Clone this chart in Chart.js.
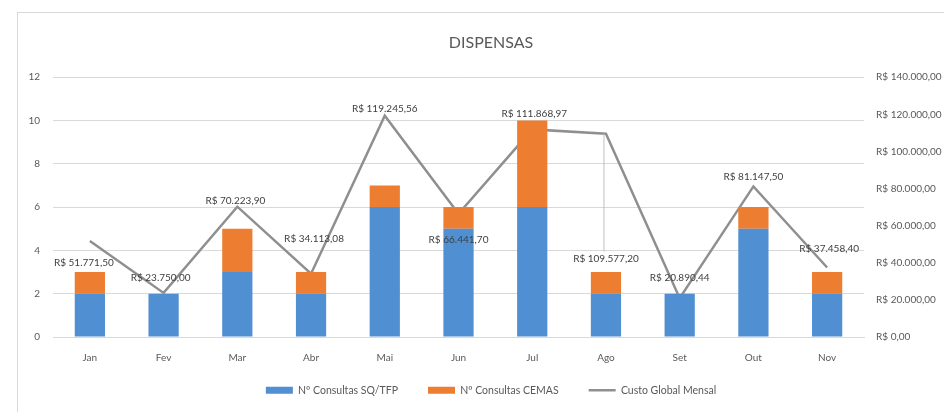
<!DOCTYPE html>
<html>
<head>
<meta charset="utf-8">
<script src="https://cdn.jsdelivr.net/npm/chart.js@4.4.1/dist/chart.umd.min.js"></script>
<style>
    html, body { margin: 0; padding: 0; background: #fff; overflow: hidden; }
    #wrap { position: relative; width: 982px; height: 412px; }
    #frame { position: absolute; left: 17px; top: 12px; right: 0; bottom: 0;
             border-left: 1px solid #d9d9d9; border-top: 1px solid #d9d9d9; pointer-events: none; }
</style>
</head>
<body>
<div id="wrap">
    <canvas id="chart"></canvas>
    <div id="frame"></div>
</div>
<script>
// Data
const months = ['Jan', 'Fev', 'Mar', 'Abr', 'Mai', 'Jun', 'Jul', 'Ago', 'Set', 'Out', 'Nov'];
const consultasSQ = [2, 2, 3, 2, 6, 5, 6, 2, 2, 5, 2];
const consultasCEMAS = [1, 0, 2, 1, 1, 1, 4, 1, 0, 1, 1];
const valorMensal = [51771.50, 23750.00, 70223.90, 34113.08, 119245.56, 66441.70,
                     111868.97, 109577.20, 20890.44, 81147.50, 37458.40];
const leftTicks = [0, 2, 4, 6, 8, 10, 12];
const rightTicks = [0, 20000, 40000, 60000, 80000, 100000, 120000, 140000];

// where each value label sits relative to its point (dx, dy)
const labelOffsets = [[-6, 22], [-3, -15], [-2, -6], [3, -35], [0, -7], [0, 26],
                      [2, -16], [0, 125], [0, -20], [0, -10], [2, -19]];

const FONT = 'Lato, "Liberation Sans", sans-serif';
const GREY_TEXT = '#595959';

// format like R$ 140.000,00
function brl(v) {
    const parts = v.toFixed(2).split('.');
    const int = parts[0].replace(/\B(?=(\d{3})+(?!\d))/g, '.');
    return 'R$ ' + int + ',' + parts[1];
}

// legend box: fixed height, then nudged up a little
const legendBox = {
    id: 'legendBox',
    beforeLayout(chart) {
        const legend = chart.legend;
        if (legend && !legend._patched) {
            const fit = legend.fit.bind(legend);
            legend.fit = function () { fit(); this.height = 47; };
            legend._patched = true;
        }
    },
    afterLayout(chart) {
        if (chart.legend) {
            chart.legend.top -= 10;
            chart.legend.bottom -= 10;
        }
    }
};

// value labels for the line series
const lineLabels = {
    id: 'lineLabels',
    afterDatasetsDraw(chart) {
        const meta = chart.getDatasetMeta(2);
        const ctx = chart.ctx;
        ctx.save();
        ctx.font = '10px ' + FONT;
        ctx.fillStyle = '#404040';
        ctx.textAlign = 'center';
        ctx.textBaseline = 'middle';
        meta.data.forEach((pt, i) => {
            const [dx, dy] = labelOffsets[i];
            const x = pt.x + dx;
            const y = pt.y + dy;
            if (dy > 60) {
                // leader line back to the point
                ctx.strokeStyle = '#bfbfbf';
                ctx.lineWidth = 1;
                ctx.beginPath();
                ctx.moveTo(pt.x - 2, y - 7);
                ctx.lineTo(pt.x - 2, pt.y);
                ctx.stroke();
            }
            ctx.fillText(brl(valorMensal[i]), x, y);
        });
        ctx.restore();
    }
};

new Chart(document.getElementById('chart'), {
    type: 'bar',
    data: {
        labels: months,
        datasets: [
            {
                label: 'Nº Consultas SQ/TFP',
                data: consultasSQ,
                backgroundColor: '#4f8fd2',
                pointStyle: 'rect',
                yAxisID: 'y',
                barPercentage: 0.41,
                categoryPercentage: 1
            },
            {
                label: 'Nº Consultas CEMAS',
                data: consultasCEMAS,
                backgroundColor: '#ed7d31',
                pointStyle: 'rect',
                yAxisID: 'y',
                barPercentage: 0.41,
                categoryPercentage: 1
            },
            {
                type: 'line',
                label: 'Custo Global Mensal',
                data: valorMensal,
                borderColor: '#8f8f8f',
                backgroundColor: '#8f8f8f',
                borderWidth: 2.5,
                pointRadius: 0,
                pointStyle: 'line',
                tension: 0,
                yAxisID: 'y1'
            }
        ]
    },
    options: {
        responsive: true,
        maintainAspectRatio: false,
        animation: false,
        layout: { padding: 0 },
        plugins: {
            title: {
                display: true,
                text: 'DISPENSAS',
                color: GREY_TEXT,
                font: { family: FONT, size: 16, weight: 'normal' },
                padding: { top: 33, bottom: 25 }
            },
            legend: {
                position: 'bottom',
                labels: {
                    usePointStyle: true,
                    pointStyleWidth: 27,
                    boxHeight: 7,
                    padding: 30,
                    color: GREY_TEXT,
                    font: { family: FONT, size: 10.5 }
                }
            },
            tooltip: { enabled: false }
        },
        scales: {
            x: {
                stacked: true,
                grid: { display: false, drawTicks: false },
                border: { color: '#d9d9d9' },
                afterFit: scale => { scale.height = 28; },
                ticks: { color: GREY_TEXT, font: { family: FONT, size: 10 }, padding: 15 }
            },
            y: {
                stacked: true,
                min: leftTicks[0],
                max: leftTicks[leftTicks.length - 1],
                grid: { color: '#d9d9d9', drawTicks: false },
                border: { display: false },
                afterBuildTicks: scale => { scale.ticks = leftTicks.map(v => ({ value: v })); },
                afterFit: scale => { scale.width = 53; },
                ticks: { color: GREY_TEXT, font: { family: FONT, size: 10 }, padding: 13 }
            },
            y1: {
                position: 'right',
                min: rightTicks[0],
                max: rightTicks[rightTicks.length - 1],
                grid: { display: false, drawTicks: false },
                border: { display: false },
                afterBuildTicks: scale => { scale.ticks = rightTicks.map(v => ({ value: v })); },
                afterFit: scale => { scale.width = 118; },
                ticks: {
                    color: GREY_TEXT,
                    font: { family: FONT, size: 10 },
                    padding: 12,
                    callback: v => brl(v)
                }
            }
        }
    },
    plugins: [legendBox, lineLabels]
});
</script>
</body>
</html>
